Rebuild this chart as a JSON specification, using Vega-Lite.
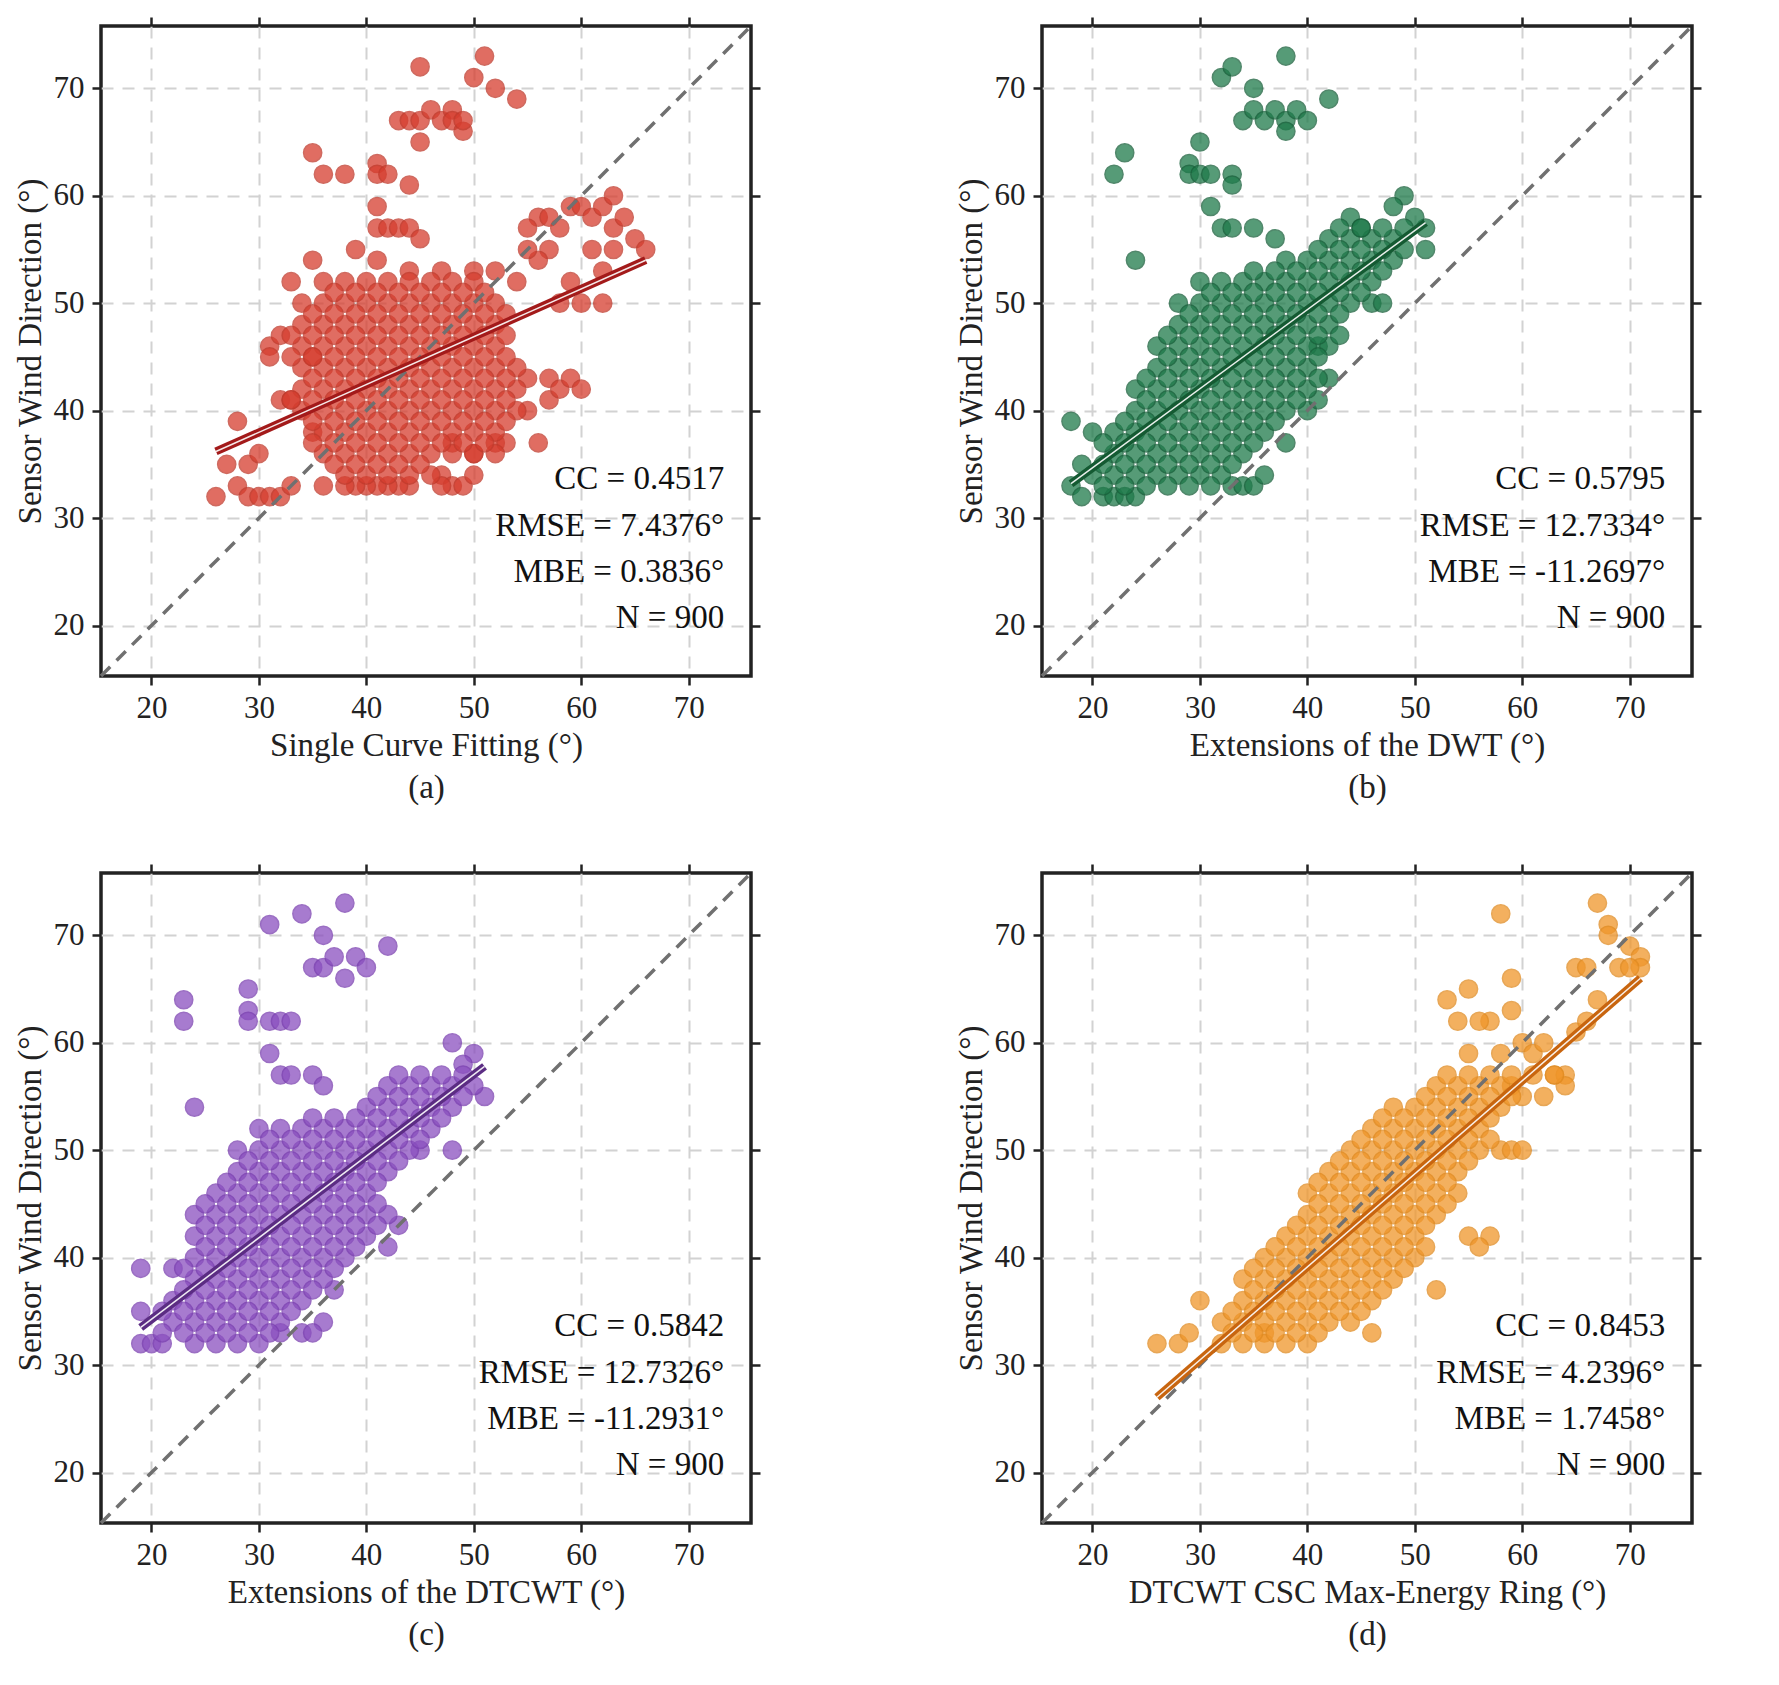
{
"$schema":"https://vega.github.io/schema/vega-lite/v6.json",
"padding":{"left":12,"top":14,"right":10,"bottom":5},
"datasets":{
"a":[{"x":45,"y":72},{"x":51,"y":73},{"x":50,"y":71},{"x":52,"y":70},{"x":54,"y":69},{"x":43,"y":67},{"x":44,"y":67},{"x":45,"y":67},{"x":46,"y":68},{"x":47,"y":67},{"x":48,"y":68},{"x":48,"y":67},{"x":49,"y":66},{"x":49,"y":67},{"x":45,"y":65},{"x":35,"y":64},{"x":36,"y":62},{"x":38,"y":62},{"x":41,"y":63},{"x":41,"y":62},{"x":42,"y":62},{"x":44,"y":61},{"x":41,"y":59},{"x":41,"y":57},{"x":42,"y":57},{"x":43,"y":57},{"x":44,"y":57},{"x":45,"y":56},{"x":39,"y":55},{"x":35,"y":54},{"x":33,"y":52},{"x":36,"y":52},{"x":26,"y":32},{"x":27,"y":35},{"x":28,"y":39},{"x":28,"y":33},{"x":29,"y":35},{"x":29,"y":32},{"x":30,"y":32},{"x":31,"y":32},{"x":32,"y":32},{"x":30,"y":36},{"x":33,"y":33},{"x":31,"y":46},{"x":31,"y":45},{"x":32,"y":47},{"x":32,"y":41},{"x":33,"y":41},{"x":34,"y":50},{"x":35,"y":38},{"x":35,"y":45},{"x":56,"y":37},{"x":57,"y":43},{"x":57,"y":41},{"x":58,"y":42},{"x":59,"y":43},{"x":60,"y":42},{"x":55,"y":40},{"x":55,"y":43},{"x":56,"y":58},{"x":55,"y":57},{"x":57,"y":58},{"x":58,"y":57},{"x":59,"y":59},{"x":60,"y":59},{"x":61,"y":58},{"x":62,"y":59},{"x":63,"y":60},{"x":63,"y":57},{"x":64,"y":58},{"x":65,"y":56},{"x":66,"y":55},{"x":62,"y":50},{"x":60,"y":50},{"x":58,"y":50},{"x":59,"y":52},{"x":61,"y":55},{"x":62,"y":53},{"x":63,"y":55},{"x":57,"y":55},{"x":56,"y":54},{"x":55,"y":55},{"x":52,"y":53},{"x":54,"y":52},{"x":47,"y":53},{"x":50,"y":53},{"x":44,"y":53},{"x":41,"y":54},{"x":48,"y":37},{"x":50,"y":36},{"x":52,"y":37},{"x":53,"y":37},{"x":47,"y":34},{"x":48,"y":33},{"x":49,"y":33},{"x":50,"y":34},{"x":47,"y":33},{"x":44,"y":33},{"x":43,"y":33},{"x":42,"y":33},{"x":41,"y":33},{"x":40,"y":33},{"x":39,"y":33},{"x":38,"y":33},{"x":36,"y":33},
{"x":38,"y":34},{"x":40,"y":34},{"x":42,"y":34},{"x":44,"y":34},{"x":46,"y":34},
{"x":36,"y":36},{"x":38,"y":36},{"x":40,"y":36},{"x":42,"y":36},{"x":44,"y":36},{"x":46,"y":36},{"x":48,"y":36},{"x":50,"y":36},{"x":52,"y":36},
{"x":36,"y":38},{"x":38,"y":38},{"x":40,"y":38},{"x":42,"y":38},{"x":44,"y":38},{"x":46,"y":38},{"x":48,"y":38},{"x":50,"y":38},{"x":52,"y":38},
{"x":34,"y":40},{"x":36,"y":40},{"x":38,"y":40},{"x":40,"y":40},{"x":42,"y":40},{"x":44,"y":40},{"x":46,"y":40},{"x":48,"y":40},{"x":50,"y":40},{"x":52,"y":40},{"x":54,"y":40},
{"x":34,"y":42},{"x":36,"y":42},{"x":38,"y":42},{"x":40,"y":42},{"x":42,"y":42},{"x":44,"y":42},{"x":46,"y":42},{"x":48,"y":42},{"x":50,"y":42},{"x":52,"y":42},{"x":54,"y":42},
{"x":34,"y":44},{"x":36,"y":44},{"x":38,"y":44},{"x":40,"y":44},{"x":42,"y":44},{"x":44,"y":44},{"x":46,"y":44},{"x":48,"y":44},{"x":50,"y":44},{"x":52,"y":44},{"x":54,"y":44},
{"x":34,"y":46},{"x":36,"y":46},{"x":38,"y":46},{"x":40,"y":46},{"x":42,"y":46},{"x":44,"y":46},{"x":46,"y":46},{"x":48,"y":46},{"x":50,"y":46},{"x":52,"y":46},
{"x":34,"y":48},{"x":36,"y":48},{"x":38,"y":48},{"x":40,"y":48},{"x":42,"y":48},{"x":44,"y":48},{"x":46,"y":48},{"x":48,"y":48},{"x":50,"y":48},{"x":52,"y":48},
{"x":36,"y":50},{"x":38,"y":50},{"x":40,"y":50},{"x":42,"y":50},{"x":44,"y":50},{"x":46,"y":50},{"x":48,"y":50},{"x":50,"y":50},{"x":52,"y":50},
{"x":38,"y":52},{"x":40,"y":52},{"x":42,"y":52},{"x":44,"y":52},{"x":46,"y":52},{"x":48,"y":52},{"x":50,"y":52},
{"x":37,"y":35},{"x":39,"y":35},{"x":41,"y":35},{"x":43,"y":35},{"x":45,"y":35},
{"x":35,"y":37},{"x":37,"y":37},{"x":39,"y":37},{"x":41,"y":37},{"x":43,"y":37},{"x":45,"y":37},{"x":47,"y":37},{"x":49,"y":37},{"x":51,"y":37},
{"x":35,"y":39},{"x":37,"y":39},{"x":39,"y":39},{"x":41,"y":39},{"x":43,"y":39},{"x":45,"y":39},{"x":47,"y":39},{"x":49,"y":39},{"x":51,"y":39},{"x":53,"y":39},
{"x":33,"y":41},{"x":35,"y":41},{"x":37,"y":41},{"x":39,"y":41},{"x":41,"y":41},{"x":43,"y":41},{"x":45,"y":41},{"x":47,"y":41},{"x":49,"y":41},{"x":51,"y":41},{"x":53,"y":41},
{"x":35,"y":43},{"x":37,"y":43},{"x":39,"y":43},{"x":41,"y":43},{"x":43,"y":43},{"x":45,"y":43},{"x":47,"y":43},{"x":49,"y":43},{"x":51,"y":43},{"x":53,"y":43},
{"x":33,"y":45},{"x":35,"y":45},{"x":37,"y":45},{"x":39,"y":45},{"x":41,"y":45},{"x":43,"y":45},{"x":45,"y":45},{"x":47,"y":45},{"x":49,"y":45},{"x":51,"y":45},{"x":53,"y":45},
{"x":33,"y":47},{"x":35,"y":47},{"x":37,"y":47},{"x":39,"y":47},{"x":41,"y":47},{"x":43,"y":47},{"x":45,"y":47},{"x":47,"y":47},{"x":49,"y":47},{"x":51,"y":47},{"x":53,"y":47},
{"x":35,"y":49},{"x":37,"y":49},{"x":39,"y":49},{"x":41,"y":49},{"x":43,"y":49},{"x":45,"y":49},{"x":47,"y":49},{"x":49,"y":49},{"x":51,"y":49},{"x":53,"y":49},
{"x":37,"y":51},{"x":39,"y":51},{"x":41,"y":51},{"x":43,"y":51},{"x":45,"y":51},{"x":47,"y":51},{"x":49,"y":51},{"x":51,"y":51}],
"b":[{"x":22,"y":62},{"x":23,"y":64},{"x":24,"y":54},{"x":29,"y":63},{"x":29,"y":62},{"x":30,"y":65},{"x":30,"y":62},{"x":31,"y":62},{"x":33,"y":62},{"x":33,"y":61},{"x":32,"y":71},{"x":33,"y":72},{"x":35,"y":70},{"x":34,"y":67},{"x":35,"y":68},{"x":36,"y":67},{"x":37,"y":68},{"x":38,"y":67},{"x":38,"y":66},{"x":38,"y":73},{"x":39,"y":68},{"x":40,"y":67},{"x":42,"y":69},{"x":31,"y":59},{"x":32,"y":57},{"x":33,"y":57},{"x":35,"y":57},{"x":37,"y":56},{"x":18,"y":39},{"x":18,"y":33},{"x":19,"y":35},{"x":19,"y":32},{"x":20,"y":38},{"x":21,"y":32},{"x":22,"y":32},{"x":23,"y":32},{"x":24,"y":32},{"x":33,"y":33},{"x":34,"y":33},{"x":35,"y":33},{"x":36,"y":34},{"x":38,"y":37},{"x":40,"y":40},{"x":41,"y":41},{"x":42,"y":43},{"x":41,"y":46},{"x":46,"y":50},{"x":47,"y":50},{"x":51,"y":55},{"x":51,"y":57},{"x":49,"y":60},{"x":48,"y":59},{"x":50,"y":58},{"x":44,"y":58},{"x":45,"y":57},
{"x":20,"y":34},{"x":22,"y":34},{"x":24,"y":34},{"x":26,"y":34},{"x":28,"y":34},{"x":30,"y":34},{"x":32,"y":34},
{"x":22,"y":36},{"x":24,"y":36},{"x":26,"y":36},{"x":28,"y":36},{"x":30,"y":36},{"x":32,"y":36},{"x":34,"y":36},
{"x":22,"y":38},{"x":24,"y":38},{"x":26,"y":38},{"x":28,"y":38},{"x":30,"y":38},{"x":32,"y":38},{"x":34,"y":38},{"x":36,"y":38},
{"x":24,"y":40},{"x":26,"y":40},{"x":28,"y":40},{"x":30,"y":40},{"x":32,"y":40},{"x":34,"y":40},{"x":36,"y":40},{"x":38,"y":40},
{"x":24,"y":42},{"x":26,"y":42},{"x":28,"y":42},{"x":30,"y":42},{"x":32,"y":42},{"x":34,"y":42},{"x":36,"y":42},{"x":38,"y":42},{"x":40,"y":42},
{"x":26,"y":44},{"x":28,"y":44},{"x":30,"y":44},{"x":32,"y":44},{"x":34,"y":44},{"x":36,"y":44},{"x":38,"y":44},{"x":40,"y":44},
{"x":26,"y":46},{"x":28,"y":46},{"x":30,"y":46},{"x":32,"y":46},{"x":34,"y":46},{"x":36,"y":46},{"x":38,"y":46},{"x":40,"y":46},{"x":42,"y":46},
{"x":28,"y":48},{"x":30,"y":48},{"x":32,"y":48},{"x":34,"y":48},{"x":36,"y":48},{"x":38,"y":48},{"x":40,"y":48},{"x":42,"y":48},
{"x":28,"y":50},{"x":30,"y":50},{"x":32,"y":50},{"x":34,"y":50},{"x":36,"y":50},{"x":38,"y":50},{"x":40,"y":50},{"x":42,"y":50},{"x":44,"y":50},
{"x":30,"y":52},{"x":32,"y":52},{"x":34,"y":52},{"x":36,"y":52},{"x":38,"y":52},{"x":40,"y":52},{"x":42,"y":52},{"x":44,"y":52},{"x":46,"y":52},
{"x":38,"y":54},{"x":40,"y":54},{"x":42,"y":54},{"x":44,"y":54},{"x":46,"y":54},{"x":48,"y":54},
{"x":42,"y":56},{"x":44,"y":56},{"x":46,"y":56},{"x":48,"y":56},
{"x":21,"y":33},{"x":23,"y":33},{"x":25,"y":33},{"x":27,"y":33},{"x":29,"y":33},{"x":31,"y":33},
{"x":21,"y":35},{"x":23,"y":35},{"x":25,"y":35},{"x":27,"y":35},{"x":29,"y":35},{"x":31,"y":35},{"x":33,"y":35},
{"x":21,"y":37},{"x":23,"y":37},{"x":25,"y":37},{"x":27,"y":37},{"x":29,"y":37},{"x":31,"y":37},{"x":33,"y":37},{"x":35,"y":37},
{"x":23,"y":39},{"x":25,"y":39},{"x":27,"y":39},{"x":29,"y":39},{"x":31,"y":39},{"x":33,"y":39},{"x":35,"y":39},{"x":37,"y":39},
{"x":25,"y":41},{"x":27,"y":41},{"x":29,"y":41},{"x":31,"y":41},{"x":33,"y":41},{"x":35,"y":41},{"x":37,"y":41},{"x":39,"y":41},
{"x":25,"y":43},{"x":27,"y":43},{"x":29,"y":43},{"x":31,"y":43},{"x":33,"y":43},{"x":35,"y":43},{"x":37,"y":43},{"x":39,"y":43},{"x":41,"y":43},
{"x":27,"y":45},{"x":29,"y":45},{"x":31,"y":45},{"x":33,"y":45},{"x":35,"y":45},{"x":37,"y":45},{"x":39,"y":45},{"x":41,"y":45},
{"x":27,"y":47},{"x":29,"y":47},{"x":31,"y":47},{"x":33,"y":47},{"x":35,"y":47},{"x":37,"y":47},{"x":39,"y":47},{"x":41,"y":47},{"x":43,"y":47},
{"x":29,"y":49},{"x":31,"y":49},{"x":33,"y":49},{"x":35,"y":49},{"x":37,"y":49},{"x":39,"y":49},{"x":41,"y":49},{"x":43,"y":49},
{"x":31,"y":51},{"x":33,"y":51},{"x":35,"y":51},{"x":37,"y":51},{"x":39,"y":51},{"x":41,"y":51},{"x":43,"y":51},{"x":45,"y":51},
{"x":35,"y":53},{"x":37,"y":53},{"x":39,"y":53},{"x":41,"y":53},{"x":43,"y":53},{"x":45,"y":53},{"x":47,"y":53},
{"x":41,"y":55},{"x":43,"y":55},{"x":45,"y":55},{"x":47,"y":55},{"x":49,"y":55},
{"x":43,"y":57},{"x":45,"y":57},{"x":47,"y":57},{"x":49,"y":57}],
"c":[{"x":19,"y":39},{"x":19,"y":35},{"x":19,"y":32},{"x":20,"y":32},{"x":21,"y":32},{"x":22,"y":39},{"x":23,"y":64},{"x":23,"y":62},{"x":24,"y":54},{"x":29,"y":65},{"x":29,"y":63},{"x":29,"y":62},{"x":31,"y":62},{"x":32,"y":62},{"x":33,"y":62},{"x":31,"y":71},{"x":34,"y":72},{"x":36,"y":70},{"x":35,"y":67},{"x":36,"y":67},{"x":37,"y":68},{"x":38,"y":66},{"x":38,"y":73},{"x":39,"y":68},{"x":40,"y":67},{"x":42,"y":69},{"x":31,"y":59},{"x":32,"y":57},{"x":33,"y":57},{"x":35,"y":57},{"x":36,"y":56},{"x":37,"y":37},{"x":36,"y":34},{"x":42,"y":41},{"x":43,"y":43},{"x":45,"y":50},{"x":48,"y":50},{"x":51,"y":55},{"x":50,"y":59},{"x":48,"y":60},{"x":49,"y":58},{"x":24,"y":32},{"x":26,"y":32},{"x":28,"y":32},{"x":30,"y":32},{"x":32,"y":33},{"x":34,"y":33},{"x":35,"y":33},
{"x":22,"y":34},{"x":24,"y":34},{"x":26,"y":34},{"x":28,"y":34},{"x":30,"y":34},{"x":32,"y":34},
{"x":22,"y":36},{"x":24,"y":36},{"x":26,"y":36},{"x":28,"y":36},{"x":30,"y":36},{"x":32,"y":36},{"x":34,"y":36},
{"x":24,"y":38},{"x":26,"y":38},{"x":28,"y":38},{"x":30,"y":38},{"x":32,"y":38},{"x":34,"y":38},{"x":36,"y":38},
{"x":24,"y":40},{"x":26,"y":40},{"x":28,"y":40},{"x":30,"y":40},{"x":32,"y":40},{"x":34,"y":40},{"x":36,"y":40},{"x":38,"y":40},
{"x":24,"y":42},{"x":26,"y":42},{"x":28,"y":42},{"x":30,"y":42},{"x":32,"y":42},{"x":34,"y":42},{"x":36,"y":42},{"x":38,"y":42},{"x":40,"y":42},
{"x":24,"y":44},{"x":26,"y":44},{"x":28,"y":44},{"x":30,"y":44},{"x":32,"y":44},{"x":34,"y":44},{"x":36,"y":44},{"x":38,"y":44},{"x":40,"y":44},{"x":42,"y":44},
{"x":26,"y":46},{"x":28,"y":46},{"x":30,"y":46},{"x":32,"y":46},{"x":34,"y":46},{"x":36,"y":46},{"x":38,"y":46},{"x":40,"y":46},
{"x":28,"y":48},{"x":30,"y":48},{"x":32,"y":48},{"x":34,"y":48},{"x":36,"y":48},{"x":38,"y":48},{"x":40,"y":48},{"x":42,"y":48},
{"x":28,"y":50},{"x":30,"y":50},{"x":32,"y":50},{"x":34,"y":50},{"x":36,"y":50},{"x":38,"y":50},{"x":40,"y":50},{"x":42,"y":50},{"x":44,"y":50},
{"x":30,"y":52},{"x":32,"y":52},{"x":34,"y":52},{"x":36,"y":52},{"x":38,"y":52},{"x":40,"y":52},{"x":42,"y":52},{"x":44,"y":52},{"x":46,"y":52},
{"x":40,"y":54},{"x":42,"y":54},{"x":44,"y":54},{"x":46,"y":54},{"x":48,"y":54},
{"x":42,"y":56},{"x":44,"y":56},{"x":46,"y":56},{"x":48,"y":56},{"x":50,"y":56},
{"x":21,"y":33},{"x":23,"y":33},{"x":25,"y":33},{"x":27,"y":33},{"x":29,"y":33},{"x":31,"y":33},
{"x":21,"y":35},{"x":23,"y":35},{"x":25,"y":35},{"x":27,"y":35},{"x":29,"y":35},{"x":31,"y":35},{"x":33,"y":35},
{"x":23,"y":37},{"x":25,"y":37},{"x":27,"y":37},{"x":29,"y":37},{"x":31,"y":37},{"x":33,"y":37},{"x":35,"y":37},
{"x":23,"y":39},{"x":25,"y":39},{"x":27,"y":39},{"x":29,"y":39},{"x":31,"y":39},{"x":33,"y":39},{"x":35,"y":39},{"x":37,"y":39},
{"x":25,"y":41},{"x":27,"y":41},{"x":29,"y":41},{"x":31,"y":41},{"x":33,"y":41},{"x":35,"y":41},{"x":37,"y":41},{"x":39,"y":41},
{"x":25,"y":43},{"x":27,"y":43},{"x":29,"y":43},{"x":31,"y":43},{"x":33,"y":43},{"x":35,"y":43},{"x":37,"y":43},{"x":39,"y":43},{"x":41,"y":43},
{"x":25,"y":45},{"x":27,"y":45},{"x":29,"y":45},{"x":31,"y":45},{"x":33,"y":45},{"x":35,"y":45},{"x":37,"y":45},{"x":39,"y":45},{"x":41,"y":45},
{"x":27,"y":47},{"x":29,"y":47},{"x":31,"y":47},{"x":33,"y":47},{"x":35,"y":47},{"x":37,"y":47},{"x":39,"y":47},{"x":41,"y":47},
{"x":29,"y":49},{"x":31,"y":49},{"x":33,"y":49},{"x":35,"y":49},{"x":37,"y":49},{"x":39,"y":49},{"x":41,"y":49},{"x":43,"y":49},
{"x":31,"y":51},{"x":33,"y":51},{"x":35,"y":51},{"x":37,"y":51},{"x":39,"y":51},{"x":41,"y":51},{"x":43,"y":51},{"x":45,"y":51},
{"x":35,"y":53},{"x":37,"y":53},{"x":39,"y":53},{"x":41,"y":53},{"x":43,"y":53},{"x":45,"y":53},{"x":47,"y":53},
{"x":41,"y":55},{"x":43,"y":55},{"x":45,"y":55},{"x":47,"y":55},{"x":49,"y":55},
{"x":43,"y":57},{"x":45,"y":57},{"x":47,"y":57},{"x":49,"y":57}],
"d":[{"x":26,"y":32},{"x":28,"y":32},{"x":29,"y":33},{"x":30,"y":36},{"x":36,"y":33},{"x":46,"y":33},{"x":52,"y":37},{"x":57,"y":42},{"x":55,"y":42},{"x":56,"y":41},{"x":58,"y":50},{"x":59,"y":50},{"x":60,"y":50},{"x":62,"y":55},{"x":63,"y":57},{"x":64,"y":57},{"x":64,"y":56},{"x":65,"y":61},{"x":65,"y":67},{"x":66,"y":67},{"x":67,"y":73},{"x":68,"y":71},{"x":68,"y":70},{"x":69,"y":67},{"x":70,"y":69},{"x":71,"y":68},{"x":71,"y":67},{"x":70,"y":67},{"x":67,"y":64},{"x":66,"y":62},{"x":58,"y":72},{"x":59,"y":66},{"x":59,"y":63},{"x":57,"y":62},{"x":56,"y":62},{"x":55,"y":65},{"x":54,"y":62},{"x":53,"y":64},{"x":58,"y":59},{"x":60,"y":60},{"x":61,"y":59},{"x":62,"y":60},{"x":63,"y":57},{"x":61,"y":57},{"x":59,"y":56},{"x":60,"y":55},{"x":55,"y":59},
{"x":32,"y":32},{"x":34,"y":32},{"x":36,"y":32},{"x":38,"y":32},{"x":40,"y":32},
{"x":32,"y":34},{"x":34,"y":34},{"x":36,"y":34},{"x":38,"y":34},{"x":40,"y":34},{"x":42,"y":34},{"x":44,"y":34},
{"x":34,"y":36},{"x":36,"y":36},{"x":38,"y":36},{"x":40,"y":36},{"x":42,"y":36},{"x":44,"y":36},{"x":46,"y":36},
{"x":34,"y":38},{"x":36,"y":38},{"x":38,"y":38},{"x":40,"y":38},{"x":42,"y":38},{"x":44,"y":38},{"x":46,"y":38},{"x":48,"y":38},
{"x":36,"y":40},{"x":38,"y":40},{"x":40,"y":40},{"x":42,"y":40},{"x":44,"y":40},{"x":46,"y":40},{"x":48,"y":40},{"x":50,"y":40},
{"x":38,"y":42},{"x":40,"y":42},{"x":42,"y":42},{"x":44,"y":42},{"x":46,"y":42},{"x":48,"y":42},{"x":50,"y":42},
{"x":40,"y":44},{"x":42,"y":44},{"x":44,"y":44},{"x":46,"y":44},{"x":48,"y":44},{"x":50,"y":44},{"x":52,"y":44},
{"x":40,"y":46},{"x":42,"y":46},{"x":44,"y":46},{"x":46,"y":46},{"x":48,"y":46},{"x":50,"y":46},{"x":52,"y":46},{"x":54,"y":46},
{"x":42,"y":48},{"x":44,"y":48},{"x":46,"y":48},{"x":48,"y":48},{"x":50,"y":48},{"x":52,"y":48},{"x":54,"y":48},
{"x":44,"y":50},{"x":46,"y":50},{"x":48,"y":50},{"x":50,"y":50},{"x":52,"y":50},{"x":54,"y":50},{"x":56,"y":50},
{"x":46,"y":52},{"x":48,"y":52},{"x":50,"y":52},{"x":52,"y":52},{"x":54,"y":52},{"x":56,"y":52},
{"x":48,"y":54},{"x":50,"y":54},{"x":52,"y":54},{"x":54,"y":54},{"x":56,"y":54},{"x":58,"y":54},
{"x":52,"y":56},{"x":54,"y":56},{"x":56,"y":56},{"x":58,"y":56},
{"x":33,"y":33},{"x":35,"y":33},{"x":37,"y":33},{"x":39,"y":33},{"x":41,"y":33},
{"x":33,"y":35},{"x":35,"y":35},{"x":37,"y":35},{"x":39,"y":35},{"x":41,"y":35},{"x":43,"y":35},{"x":45,"y":35},
{"x":35,"y":37},{"x":37,"y":37},{"x":39,"y":37},{"x":41,"y":37},{"x":43,"y":37},{"x":45,"y":37},{"x":47,"y":37},
{"x":35,"y":39},{"x":37,"y":39},{"x":39,"y":39},{"x":41,"y":39},{"x":43,"y":39},{"x":45,"y":39},{"x":47,"y":39},{"x":49,"y":39},
{"x":37,"y":41},{"x":39,"y":41},{"x":41,"y":41},{"x":43,"y":41},{"x":45,"y":41},{"x":47,"y":41},{"x":49,"y":41},{"x":51,"y":41},
{"x":39,"y":43},{"x":41,"y":43},{"x":43,"y":43},{"x":45,"y":43},{"x":47,"y":43},{"x":49,"y":43},{"x":51,"y":43},
{"x":41,"y":45},{"x":43,"y":45},{"x":45,"y":45},{"x":47,"y":45},{"x":49,"y":45},{"x":51,"y":45},{"x":53,"y":45},
{"x":41,"y":47},{"x":43,"y":47},{"x":45,"y":47},{"x":47,"y":47},{"x":49,"y":47},{"x":51,"y":47},{"x":53,"y":47},
{"x":43,"y":49},{"x":45,"y":49},{"x":47,"y":49},{"x":49,"y":49},{"x":51,"y":49},{"x":53,"y":49},{"x":55,"y":49},
{"x":45,"y":51},{"x":47,"y":51},{"x":49,"y":51},{"x":51,"y":51},{"x":53,"y":51},{"x":55,"y":51},{"x":57,"y":51},
{"x":47,"y":53},{"x":49,"y":53},{"x":51,"y":53},{"x":53,"y":53},{"x":55,"y":53},{"x":57,"y":53},
{"x":51,"y":55},{"x":53,"y":55},{"x":55,"y":55},{"x":57,"y":55},{"x":59,"y":55},
{"x":53,"y":57},{"x":55,"y":57},{"x":57,"y":57},{"x":59,"y":57}],
"diag":[{"x":15.3,"y":15.3},{"x":75.8,"y":75.8}],
"fa":[{"x":26,"y":36.2},{"x":66,"y":54}],
"fb":[{"x":18,"y":33.2},{"x":51,"y":57.5}],
"fc":[{"x":19,"y":33.5},{"x":51,"y":57.8}],
"fd":[{"x":26,"y":27},{"x":71,"y":66}],
"ta":[{"t":"CC = 0.4517","y":33.6},{"t":"RMSE = 7.4376°","y":29.3},{"t":"MBE = 0.3836°","y":25.0},{"t":"N = 900","y":20.7}],
"tb":[{"t":"CC = 0.5795","y":33.6},{"t":"RMSE = 12.7334°","y":29.3},{"t":"MBE = -11.2697°","y":25.0},{"t":"N = 900","y":20.7}],
"tc":[{"t":"CC = 0.5842","y":33.6},{"t":"RMSE = 12.7326°","y":29.3},{"t":"MBE = -11.2931°","y":25.0},{"t":"N = 900","y":20.7}],
"td":[{"t":"CC = 0.8453","y":33.6},{"t":"RMSE = 4.2396°","y":29.3},{"t":"MBE = 1.7458°","y":25.0},{"t":"N = 900","y":20.7}]
},
"vconcat":[
{"hconcat":[
{"width":650,"height":650,"resolve":{"axis":{"x":"independent","y":"independent"}},
"layer":[
{"data":{"name":"a"},"mark":{"type":"circle","size":330,"opacity":0.75,"color":"#d63d2e","stroke":"#c0392b","strokeWidth":1.5,"clip":true},
"encoding":{"x":{"field":"x","type":"quantitative","scale":{"domain":[15.3,75.8],"nice":false,"zero":false},"axis":{"values":[20,30,40,50,60,70],"title":["Single Curve Fitting (°)","(a)"]}},
"y":{"field":"y","type":"quantitative","scale":{"domain":[15.3,75.8],"nice":false,"zero":false},"axis":{"values":[20,30,40,50,60,70],"title":"Sensor Wind Direction (°)"}}}},
{"data":{"name":"diag"},"mark":{"type":"line","color":"#707070","strokeWidth":3.5,"strokeDash":[13,9]},
"encoding":{"x":{"field":"x","type":"quantitative","axis":{"values":[20,30,40,50,60,70],"orient":"top","labels":false,"title":null,"grid":false}},"y":{"field":"y","type":"quantitative","axis":{"values":[20,30,40,50,60,70],"orient":"right","labels":false,"title":null,"grid":false}}}},
{"data":{"name":"fa"},"mark":{"type":"line","color":"#a31a1a","strokeWidth":8},"encoding":{"x":{"field":"x","type":"quantitative","axis":null},"y":{"field":"y","type":"quantitative","axis":null}}},
{"data":{"name":"fa"},"mark":{"type":"line","color":"#ffffff","strokeWidth":1.5,"opacity":0.9},"encoding":{"x":{"field":"x","type":"quantitative","axis":null},"y":{"field":"y","type":"quantitative","axis":null}}},
{"data":{"name":"ta"},"mark":{"type":"text","align":"right","baseline":"middle","font":"Liberation Serif","fontSize":33,"color":"#111"},"encoding":{"x":{"datum":73.3,"type":"quantitative","axis":null},"y":{"field":"y","type":"quantitative","axis":null},"text":{"field":"t"}}}
]},
{"width":650,"height":650,"resolve":{"axis":{"x":"independent","y":"independent"}},
"layer":[
{"data":{"name":"b"},"mark":{"type":"circle","size":330,"opacity":0.75,"color":"#1e7a4a","stroke":"#17603a","strokeWidth":1.5,"clip":true},
"encoding":{"x":{"field":"x","type":"quantitative","scale":{"domain":[15.3,75.8],"nice":false,"zero":false},"axis":{"values":[20,30,40,50,60,70],"title":["Extensions of the DWT (°)","(b)"]}},
"y":{"field":"y","type":"quantitative","scale":{"domain":[15.3,75.8],"nice":false,"zero":false},"axis":{"values":[20,30,40,50,60,70],"title":"Sensor Wind Direction (°)"}}}},
{"data":{"name":"diag"},"mark":{"type":"line","color":"#707070","strokeWidth":3.5,"strokeDash":[13,9]},
"encoding":{"x":{"field":"x","type":"quantitative","axis":{"values":[20,30,40,50,60,70],"orient":"top","labels":false,"title":null,"grid":false}},"y":{"field":"y","type":"quantitative","axis":{"values":[20,30,40,50,60,70],"orient":"right","labels":false,"title":null,"grid":false}}}},
{"data":{"name":"fb"},"mark":{"type":"line","color":"#145a32","strokeWidth":8},"encoding":{"x":{"field":"x","type":"quantitative","axis":null},"y":{"field":"y","type":"quantitative","axis":null}}},
{"data":{"name":"fb"},"mark":{"type":"line","color":"#ffffff","strokeWidth":1.5,"opacity":0.9},"encoding":{"x":{"field":"x","type":"quantitative","axis":null},"y":{"field":"y","type":"quantitative","axis":null}}},
{"data":{"name":"tb"},"mark":{"type":"text","align":"right","baseline":"middle","font":"Liberation Serif","fontSize":33,"color":"#111"},"encoding":{"x":{"datum":73.3,"type":"quantitative","axis":null},"y":{"field":"y","type":"quantitative","axis":null},"text":{"field":"t"}}}
]}
]},
{"hconcat":[
{"width":650,"height":650,"resolve":{"axis":{"x":"independent","y":"independent"}},
"layer":[
{"data":{"name":"c"},"mark":{"type":"circle","size":330,"opacity":0.75,"color":"#8a4fbf","stroke":"#7a3fb0","strokeWidth":1.5,"clip":true},
"encoding":{"x":{"field":"x","type":"quantitative","scale":{"domain":[15.3,75.8],"nice":false,"zero":false},"axis":{"values":[20,30,40,50,60,70],"title":["Extensions of the DTCWT (°)","(c)"]}},
"y":{"field":"y","type":"quantitative","scale":{"domain":[15.3,75.8],"nice":false,"zero":false},"axis":{"values":[20,30,40,50,60,70],"title":"Sensor Wind Direction (°)"}}}},
{"data":{"name":"diag"},"mark":{"type":"line","color":"#707070","strokeWidth":3.5,"strokeDash":[13,9]},
"encoding":{"x":{"field":"x","type":"quantitative","axis":{"values":[20,30,40,50,60,70],"orient":"top","labels":false,"title":null,"grid":false}},"y":{"field":"y","type":"quantitative","axis":{"values":[20,30,40,50,60,70],"orient":"right","labels":false,"title":null,"grid":false}}}},
{"data":{"name":"fc"},"mark":{"type":"line","color":"#5b2c83","strokeWidth":8},"encoding":{"x":{"field":"x","type":"quantitative","axis":null},"y":{"field":"y","type":"quantitative","axis":null}}},
{"data":{"name":"fc"},"mark":{"type":"line","color":"#ffffff","strokeWidth":1.5,"opacity":0.9},"encoding":{"x":{"field":"x","type":"quantitative","axis":null},"y":{"field":"y","type":"quantitative","axis":null}}},
{"data":{"name":"tc"},"mark":{"type":"text","align":"right","baseline":"middle","font":"Liberation Serif","fontSize":33,"color":"#111"},"encoding":{"x":{"datum":73.3,"type":"quantitative","axis":null},"y":{"field":"y","type":"quantitative","axis":null},"text":{"field":"t"}}}
]},
{"width":650,"height":650,"resolve":{"axis":{"x":"independent","y":"independent"}},
"layer":[
{"data":{"name":"d"},"mark":{"type":"circle","size":330,"opacity":0.75,"color":"#f0962a","stroke":"#e08a20","strokeWidth":1.5,"clip":true},
"encoding":{"x":{"field":"x","type":"quantitative","scale":{"domain":[15.3,75.8],"nice":false,"zero":false},"axis":{"values":[20,30,40,50,60,70],"title":["DTCWT CSC Max-Energy Ring (°)","(d)"]}},
"y":{"field":"y","type":"quantitative","scale":{"domain":[15.3,75.8],"nice":false,"zero":false},"axis":{"values":[20,30,40,50,60,70],"title":"Sensor Wind Direction (°)"}}}},
{"data":{"name":"diag"},"mark":{"type":"line","color":"#707070","strokeWidth":3.5,"strokeDash":[13,9]},
"encoding":{"x":{"field":"x","type":"quantitative","axis":{"values":[20,30,40,50,60,70],"orient":"top","labels":false,"title":null,"grid":false}},"y":{"field":"y","type":"quantitative","axis":{"values":[20,30,40,50,60,70],"orient":"right","labels":false,"title":null,"grid":false}}}},
{"data":{"name":"fd"},"mark":{"type":"line","color":"#c8650f","strokeWidth":8},"encoding":{"x":{"field":"x","type":"quantitative","axis":null},"y":{"field":"y","type":"quantitative","axis":null}}},
{"data":{"name":"fd"},"mark":{"type":"line","color":"#ffffff","strokeWidth":1.5,"opacity":0.9},"encoding":{"x":{"field":"x","type":"quantitative","axis":null},"y":{"field":"y","type":"quantitative","axis":null}}},
{"data":{"name":"td"},"mark":{"type":"text","align":"right","baseline":"middle","font":"Liberation Serif","fontSize":33,"color":"#111"},"encoding":{"x":{"datum":73.3,"type":"quantitative","axis":null},"y":{"field":"y","type":"quantitative","axis":null},"text":{"field":"t"}}}
]}
]}
],
"spacing":55,
"config":{
"concat":{"spacing":190},
"view":{"stroke":"#222","strokeWidth":3.5},
"axis":{"labelFont":"Liberation Serif","labelFontSize":31,"labelColor":"#222","titleFont":"Liberation Serif","titleFontSize":33,"titleFontWeight":"normal","titleColor":"#222","titleLineHeight":42,"tickColor":"#222","tickSize":9,"tickWidth":2.5,"domain":false,"gridDash":[12,9],"gridColor":"#d2d2d2","gridWidth":2,"labelPadding":8,"titlePadding":6}
}
}
